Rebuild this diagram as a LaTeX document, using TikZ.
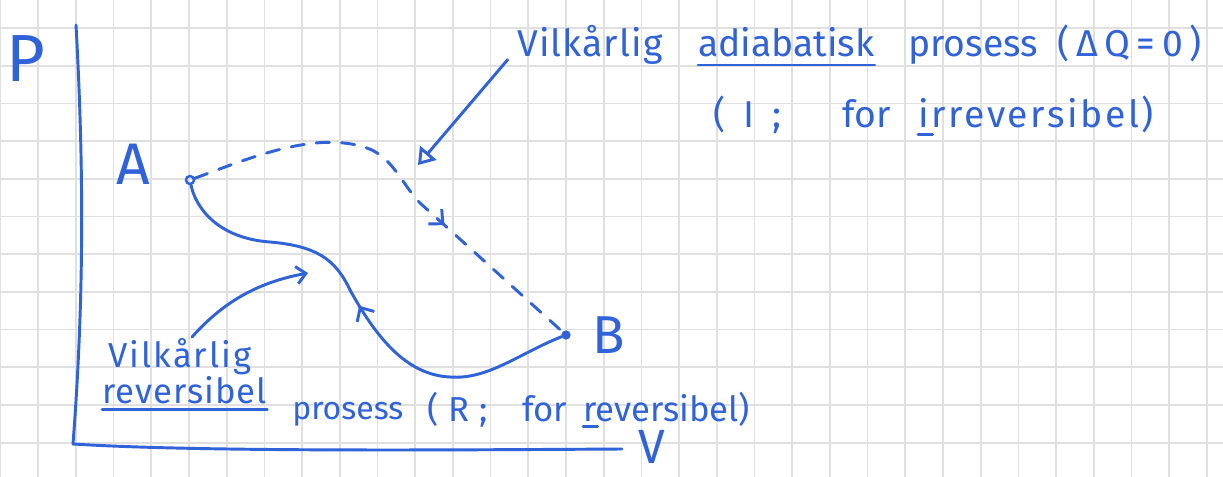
\documentclass[tikz,border=0pt]{standalone}
\usepackage{fontspec}
\setmainfont{Fira Sans}
\usetikzlibrary{arrows.meta, positioning, calc, decorations.markings}
\definecolor{inkblue}{RGB}{48,98,218}
\definecolor{gridgray}{RGB}{224,224,224}
\tikzset{
  gridline/.style={draw=gridgray, line width=1.3pt},
  ink/.style={draw=inkblue, line width=2.2pt, line cap=round},
  dashedink/.style={ink, dash pattern=on 10pt off 9pt},
  hand/.style={text=inkblue, inner sep=0pt, anchor=base west,
    font=\fontsize{28}{32}\selectfont},
  smallhand/.style={hand, font=\fontsize{26}{30}\selectfont},
  spread/.style={execute at begin node={\addfontfeature{LetterSpace=#1}}},
  biglabel/.style={text=inkblue, inner sep=0pt, font=\fontsize{44}{48}\selectfont},
  dot/.style={circle, fill=inkblue, inner sep=0pt, minimum size=7pt},
  opendot/.style={circle, draw=inkblue, line width=1.8pt, inner sep=0pt, minimum size=6pt},
  midbarb/.style={postaction={decorate}, decoration={markings,
    mark=at position #1 with {\arrow{Straight Barb[length=8pt, width=15pt]}}}}
}

\begin{document}
\begin{tikzpicture}[x=0.75pt, y=-0.75pt]
  \useasboundingbox (0,0) rectangle (1223,477);
  \clip (0,0) rectangle (1223,477);
  \fill[white] (0,0) rectangle (1223,477);

  % squared paper
  \foreach \i in {0,...,32}
    \draw[gridline] ({0.5+37.7*\i},0) -- ({0.5+37.7*\i},477);
  \foreach \j in {-1,...,12}
    \draw[gridline] (0,{28+37.7*\j}) -- (1223,{28+37.7*\j});

  % axes
  \coordinate (ytop) at (76,25);
  \coordinate (origin) at (73,444);
  \coordinate (xend) at (622,449);
  \draw[ink] (ytop) .. controls (84,170) and (84,300) .. (origin);
  \draw[ink] (origin) .. controls (200,452) and (450,450) .. (xend);
  \node[biglabel, anchor=base, font=\fontsize{50}{54}\selectfont] (plabel) at (26,82) {P};
  \node[biglabel, anchor=base, font=\fontsize{36}{40}\selectfont] (vlabel) at (652,463) {V};

  % states
  \node[opendot] (ptA) at (190,180) {};
  \node[dot] (ptB) at (566,335) {};
  \node[biglabel, left=26pt of ptA, yshift=12pt] (labA) {A};
  \node[biglabel, right=16pt of ptB, font=\fontsize{40}{44}\selectfont] (labB) {B};

  % reversible path (B to A) and irreversible adiabatic path (A to B)
  \draw[ink, midbarb=0.52] (ptB) .. controls (520,353) and (488,380) .. (450,377)
    .. controls (405,375) and (375,335) .. (350,290)
    .. controls (335,258) and (315,246) .. (270,242)
    .. controls (215,238) and (195,205) .. (ptA);
  \draw[dashedink, midbarb=0.645] (ptA) .. controls (250,158) and (320,128) .. (372,150)
    .. controls (395,162) and (402,184) .. (420,203) -- (ptB);

  % upper text
  \node[hand, spread=3] (vilk1) at (517,57) {Vilkårlig};
  \node[hand] (adia) at (698,57) {adiabatisk};
  \node[hand] (pros1) at (908,57) {prosess};
  \node[hand, spread=18] (dq) at (1057,57) {(ΔQ=0)};
  \node[hand, spread=48] (isemi) at (713,128) {(I;};
  \node[hand] (for1) at (842,128) {for};
  \node[hand, spread=7] (irrev) at (918,128) {irreversibel)};
  \draw[ink] ([yshift=-6pt]adia.base west) -- ([yshift=-6pt]adia.base east);
  \draw[ink] ([yshift=-5pt]irrev.base west) -- ++(11pt,0);

  % lower text
  \node[smallhand, spread=6] (vilk2) at (108,367) {Vilkårlig};
  \node[smallhand, spread=3] (rev1) at (102,403) {reversibel};
  \node[hand, font=\fontsize{24}{28}\selectfont] (pros2) at (292,419) {prosess};
  \node[smallhand, spread=29] (rsemi) at (427,421) {(R;};
  \node[smallhand] (for2) at (522,421) {for};
  \node[smallhand] (rev2) at (583,421) {reversibel)};
  \draw[ink] ([yshift=-5pt]rev1.base west) -- ([yshift=-5pt]rev1.base east);
  \draw[ink] ([yshift=-4pt]rev2.base west) -- ++(11pt,0);

  % pointers
  \coordinate (adiatip) at (418,165);
  \draw[ink, -{Triangle[open, length=12pt, width=16pt]}]
    ([xshift=-7pt, yshift=-2pt]vilk1.base west) -- (adiatip);
  \coordinate (revtail) at (192,337);
  \coordinate (revtip) at (308,273);
  \draw[ink, -{Straight Barb[length=7pt, width=13pt]}]
    (revtail) .. controls (225,300) and (260,282) .. (revtip);
\end{tikzpicture}
\end{document}
